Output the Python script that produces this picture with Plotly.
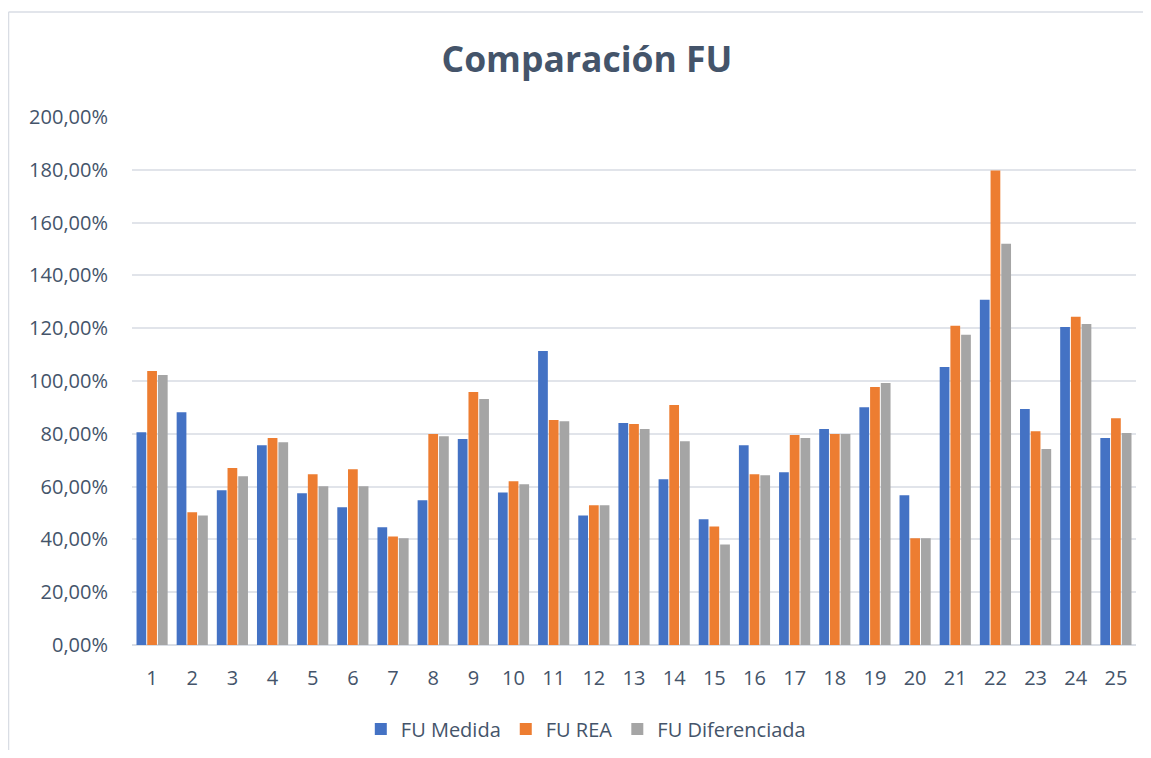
import numpy as np
import plotly.graph_objects as go

# values, in percent
categorias = [str(i) for i in range(1, 26)]
fu_medida = [80.6, 88.2, 58.6, 75.7, 57.5, 52.2, 44.6, 54.8, 78.0, 57.8,
             111.4, 49.1, 84.1, 62.8, 47.6, 75.7, 65.4, 81.8, 90.1, 56.7,
             105.3, 130.8, 89.4, 120.5, 78.4]
fu_rea = [103.8, 50.3, 67.0, 78.4, 64.7, 66.6, 41.1, 79.9, 95.8, 62.0,
          85.2, 52.9, 83.7, 90.9, 44.9, 64.7, 79.5, 79.9, 97.7, 40.4,
          120.9, 179.7, 81.0, 124.3, 85.9]
fu_dif = [102.3, 49.1, 63.9, 76.8, 60.1, 60.1, 40.4, 79.1, 93.2, 60.9,
          84.8, 52.9, 81.8, 77.2, 38.1, 64.3, 78.4, 79.9, 99.2, 40.4,
          117.5, 152.0, 74.2, 121.6, 80.3]

series = [
    ('FU Medida', fu_medida, '#4472C4'),
    ('FU REA', fu_rea, '#ED7D31'),
    ('FU Diferenciada', fu_dif, '#A5A5A5'),
]

fig = go.Figure()
for name, vals, col in series:
    fig.add_trace(go.Bar(x=categorias, y=np.array(vals) / 100, name=name,
                         marker=dict(color=col, line=dict(width=0))))

font = 'Open Sans, sans-serif'
txt = '#44546A'
# page body has an 8px margin; keep the figure inside the window (no scrollbars)
fig.update_layout(
    width=1135, height=742,
    paper_bgcolor='white', plot_bgcolor='white',
    margin=dict(l=124, r=7, t=109, b=105),
    separators=', ',
    barmode='group', bargap=0.2, bargroupgap=0.09,
    title=dict(text='<b>Comparación FU</b>', x=0.5101, xanchor='center',
               y=1 - 52 / 742, yanchor='middle',
               font=dict(family=font, size=35.5, color=txt)),
    legend=dict(orientation='h', x=0.452, xanchor='center',
                yref='container', y=1 - 721 / 742, yanchor='middle',
                font=dict(family=font, size=20, color=txt),
                itemwidth=30, traceorder='normal'),
    font=dict(family=font),
    showlegend=True,
)
fig.update_yaxes(range=[0, 2.0], dtick=0.2, tickformat='.2%', automargin=False,
                 showgrid=True, gridcolor='#E1E4EA', gridwidth=1.5,
                 zeroline=True, zerolinecolor='#D9DDE4', zerolinewidth=2,
                 showline=False, ticks='', ticklen=0, ticklabelstandoff=23,
                 tickfont=dict(family=font, size=20, color=txt))
fig.update_xaxes(showgrid=False, showline=False, ticks='', ticklabelstandoff=19,
                 automargin=False,
                 tickfont=dict(family=font, size=20, color=txt))

# outer chart border (only left and top edges are visible in the window)
border = dict(color='#D9DDE4', width=1.5)
fig.add_shape(type='line', xref='paper', yref='paper',
              x0=-0.123, x1=-0.123, y0=-0.4, y1=1.1989, line=border, layer='below')
fig.add_shape(type='line', xref='paper', yref='paper',
              x0=-0.123, x1=1.2, y0=1.1989, y1=1.1989, line=border, layer='below')

fig.write_html('out.html')
